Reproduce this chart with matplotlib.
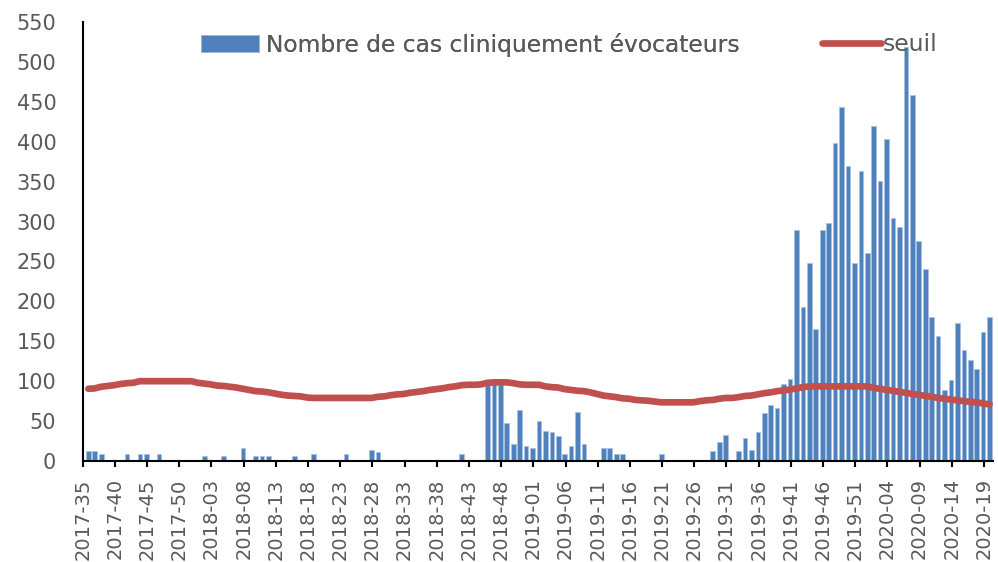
import matplotlib
matplotlib.use("Agg")
import matplotlib.pyplot as plt
import numpy as np

# weekly counts, 2017-35 .. 2020-19 (141 weeks)
cas = [
    12, 12, 9, 0, 0, 0, 9, 0, 9, 9,
    0, 9, 0, 0, 0, 0, 0, 0, 6, 0,
    0, 6, 0, 0, 16, 0, 6, 6, 6, 0,
    0, 0, 6, 0, 0, 9, 0, 0, 0, 0,
    9, 0, 0, 0, 14, 11, 0, 0, 0, 0,
    0, 0, 0, 0, 0, 0, 0, 0, 9, 0,
    0, 0, 99, 103, 98, 48, 21, 64, 19, 16,
    50, 38, 36, 31, 9, 19, 62, 21, 0, 0,
    16, 16, 9, 9, 0, 0, 0, 0, 0, 9,
    0, 0, 0, 0, 0, 0, 0, 12, 24, 33,
    0, 12, 29, 14, 36, 60, 70, 67, 96, 103,
    290, 193, 248, 166, 290, 298, 399, 444, 370, 248,
    363, 260, 420, 351, 404, 305, 293, 519, 459, 276,
    240, 180, 156, 89, 101, 173, 139, 127, 115, 161,
    180,
]

seuil = [
    90.5, 91, 93, 94, 95, 96.5, 97.5, 98, 100, 100,
    100, 100, 100, 100, 100, 100, 100, 98, 97, 96,
    94.5, 94, 93, 92, 90.5, 89, 87.5, 87, 86, 84.5,
    83, 82, 81.5, 81, 79.5, 79, 79, 79, 79, 79,
    79, 79, 79, 79, 79, 80.5, 81, 82.5, 83.5, 84,
    85.5, 86.5, 87.5, 89, 90, 91, 92.5, 93.5, 95, 95.5,
    95.5, 96, 98, 98.5, 98.5, 98.5, 97.5, 96, 95.5, 95.5,
    95.5, 93.5, 92.5, 92, 90, 89, 88, 87.5, 86, 84,
    82, 81, 80, 78.5, 78, 76.5, 76, 75.5, 74.5, 73.5,
    73.5, 73.5, 73.5, 73.5, 73.5, 75, 76, 76.5, 78, 79,
    79, 80, 81.5, 82, 83.5, 85, 86, 87.5, 88.5, 89.5,
    91, 92.5, 93.5, 93.5, 93.5, 93.5, 93.5, 93.5, 93.5, 93.5,
    93.5, 93.5, 91.5, 90.5, 89, 88, 86.5, 85.5, 84, 83,
    81.5, 80.5, 79, 78, 77, 76, 75, 74, 73.5, 72,
    71,
]

semaines_labels = [
    "2017-35", "2017-40", "2017-45", "2017-50", "2018-03", "2018-08",
    "2018-13", "2018-18", "2018-23", "2018-28", "2018-33", "2018-38",
    "2018-43", "2018-48", "2019-01", "2019-06", "2019-11", "2019-16",
    "2019-21", "2019-26", "2019-31", "2019-36", "2019-41", "2019-46",
    "2019-51", "2020-04", "2020-09", "2020-14", "2020-19",
]

blue = "#4F81BD"
red = "#C0504D"
grey = "#595959"

x = np.arange(len(cas))

fig = plt.figure(figsize=(9.98, 5.62), dpi=100)
ax = fig.add_axes([0.0829, 0.1797, 0.9119, 0.7812])

bars = ax.bar(x, cas, width=0.72, color=blue, edgecolor="#A9C1E0",
              linewidth=0.5, zorder=2)
line, = ax.plot(x, seuil, color=red, lw=4.8, solid_capstyle="round", zorder=3)

ax.set_xlim(-0.87, 140.5)
ax.set_ylim(0, 550)
ax.set_yticks(np.arange(0, 551, 50))

tick_pos = np.arange(0, len(cas), 5) - 0.87
ax.set_xticks(tick_pos)
ax.set_xticklabels(semaines_labels, rotation=90)

ax.tick_params(axis="y", length=0, pad=19, labelsize=15, labelcolor=grey)
ax.tick_params(axis="x", length=4.5, width=1.5, color="black", pad=8,
               labelsize=14, labelcolor=grey)

for s in ["top", "right"]:
    ax.spines[s].set_visible(False)
for s in ["left", "bottom"]:
    ax.spines[s].set_linewidth(1.5)
    ax.spines[s].set_color("black")

leg1 = fig.legend([bars], ["Nombre de cas cliniquement évocateurs"],
                  loc="center left", bbox_to_anchor=(0.201, 0.92),
                  frameon=False, borderpad=0, borderaxespad=0,
                  handlelength=2.5, handleheight=0.75, handletextpad=0.3,
                  fontsize=16.8, labelcolor=grey)
fig.add_artist(leg1)
fig.legend([line], ["seuil"], loc="center left",
           bbox_to_anchor=(0.824, 0.92), frameon=False, borderpad=0,
           borderaxespad=0, handlelength=2.5, handletextpad=0.1,
           fontsize=16.8, labelcolor=grey)

plt.savefig("out.png", dpi=100)
